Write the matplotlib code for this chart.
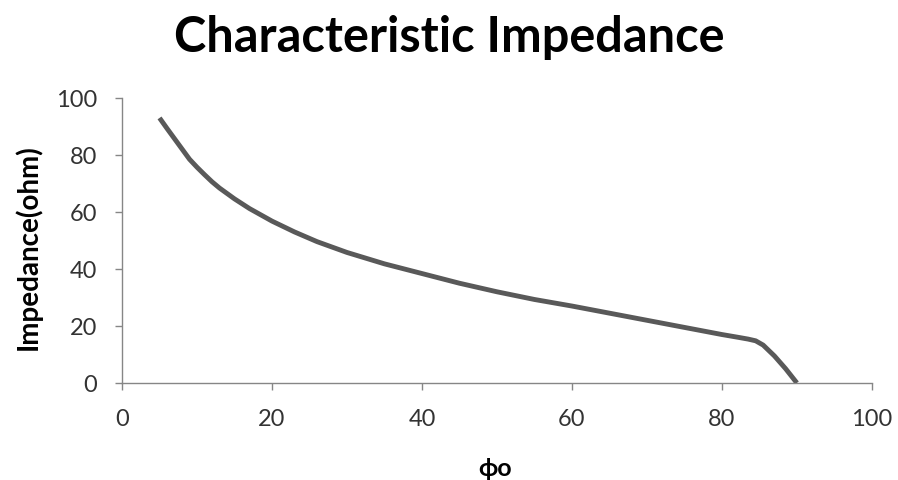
import matplotlib
matplotlib.use('Agg')
from matplotlib import pyplot as plt

plt.rcParams['font.family'] = ['Lato', 'DejaVu Sans']

# data
phi = [5, 6, 7, 8, 9, 10, 11, 12, 13, 15, 17, 20, 23, 26, 30, 35, 40, 45, 50,
       55, 60, 65, 70, 75, 80, 82, 83.5, 84.5, 85.5, 87, 88.5, 90]
impedance = [93, 89.3, 85.7, 82.1, 78.5, 75.7, 73.1, 70.6, 68.4, 64.6, 61.2, 56.8,
             53.0, 49.6, 45.8, 41.8, 38.4, 35.0, 32.0, 29.3, 27.0, 24.5, 22.0,
             19.5, 17.0, 16.1, 15.4, 14.8, 13.3, 9.5, 5.0, 0]
xticks = [0, 20, 40, 60, 80, 100]
yticks = [0, 20, 40, 60, 80, 100]

fig = plt.figure(figsize=(8.98, 4.81), dpi=100)
ax = fig.add_axes([0.1359, 0.2017, 0.835, 0.5925])

ax.plot(phi, impedance, color='#595959', linewidth=3.5, solid_capstyle='butt')

ax.set_xlim(0, 100)
ax.set_ylim(0, 100)
ax.set_xticks(xticks)
ax.set_yticks(yticks)
ax.tick_params(labelsize=17, colors='#868686', length=5, width=1, pad=13)
for lab in ax.get_xticklabels() + ax.get_yticklabels():
    lab.set_color('#333333')

for s in ['top', 'right']:
    ax.spines[s].set_visible(False)
for s in ['left', 'bottom']:
    ax.spines[s].set_color('#868686')
    ax.spines[s].set_linewidth(1)

fig.text(0.5, 0.923, 'Characteristic Impedance', ha='center', va='center',
         fontsize=35, fontweight='bold', color='black')
fig.text(0.551, 0.027, '\u03d5o', ha='center', va='center',
         fontsize=18, fontweight='bold')
fig.text(0.031, 0.487, 'Impedance(ohm)', ha='center', va='center',
         rotation=90, fontsize=20, fontweight='bold')

fig.savefig('out.png', dpi=100)
